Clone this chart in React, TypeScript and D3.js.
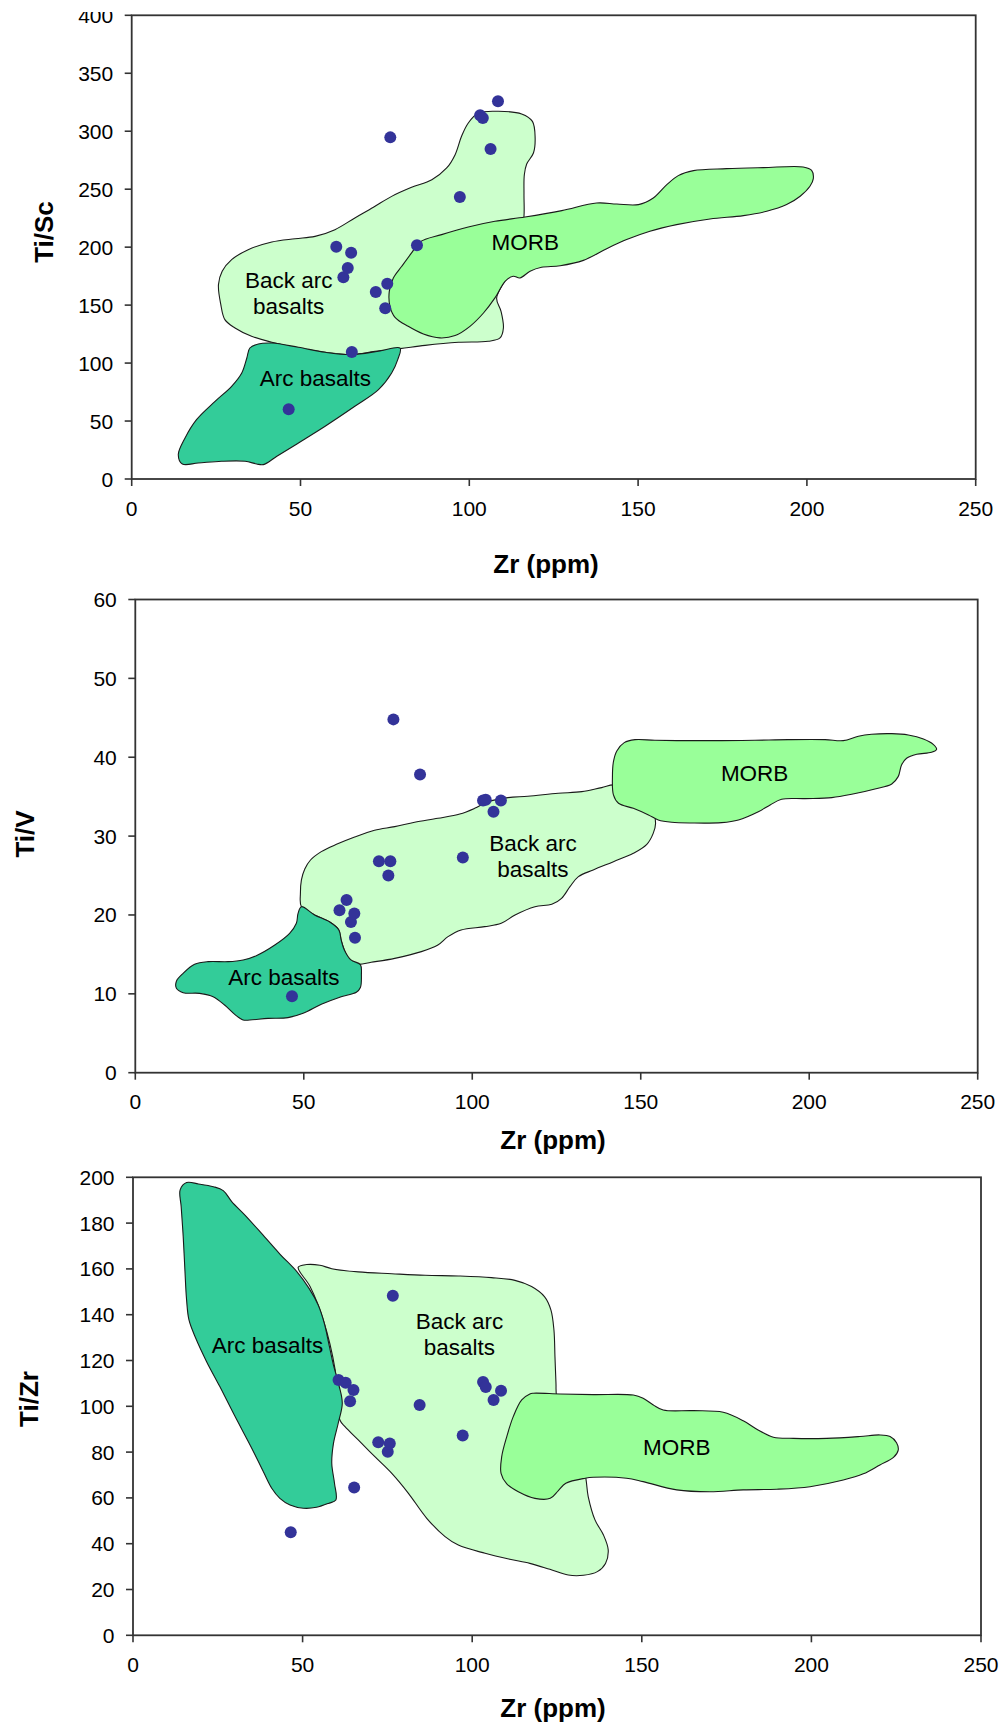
import React from 'react';
import * as d3 from 'd3';

type P = [number, number];

// ---- Sample data (same 16 samples in every diagram) ----
const zr = [46.5, 60.6, 62.7, 64.0, 65.0, 65.2, 72.3, 75.1, 75.7, 76.6, 84.5, 97.2, 103.2, 104.0, 106.3, 108.5];
const tiSc = [60.1, 200.4, 174.0, 182.0, 195.2, 109.5, 161.3, 147.2, 168.5, 294.7, 201.6, 243.3, 313.7, 311.4, 284.7, 325.8];
const tiV = [9.7, 20.6, 21.9, 19.1, 20.2, 17.1, 26.8, 25.0, 26.8, 44.8, 37.8, 27.3, 34.5, 34.6, 33.1, 34.5];
const tiZr = [45.0, 111.5, 110.3, 102.2, 107.1, 64.5, 84.3, 80.2, 83.8, 148.3, 100.6, 87.2, 110.6, 108.4, 102.7, 106.8];

const xTicks = [0, 50, 100, 150, 200, 250];
const yTicksSc = [0, 50, 100, 150, 200, 250, 300, 350, 400];
const yTicksV = [0, 10, 20, 30, 40, 50, 60];
const yTicksZr = [0, 20, 40, 60, 80, 100, 120, 140, 160, 180, 200];

// ---- Field outlines (Zr, ratio) ----
const arcSc: P[] = [[35.0,113.0],[37.5,116.5],[41.5,117.3],[49.4,113.6],[57.3,109.3],[65.2,107.3],[73.1,110.2],[79.5,113.0],[78.8,103],[77.0,91.5],[73.1,77.1],[66.1,62.7],[57.3,45.5],[49.4,31.1],[43.0,19.6],[39.0,12.4],[37.0,13.0],[33.6,15.3],[26.6,15.3],[19.7,13.8],[15.0,13.0],[13.8,21.0],[15.8,35.4],[19.2,51.2],[24.7,67.0],[29.6,80.0],[32.6,91.5],[34.1,104.4]];
const backArcSc: P[] = [[102.7,315.7],[108.6,317.2],[115.5,314.9],[118.7,308.5],[119.5,294.2],[119.0,281.2],[117.0,271.7],[116.3,262.5],[116.2,245.3],[116.2,226.6],[115,199.3],[111.6,176.3],[108.1,156.2],[109.4,144.7],[110.1,130.3],[109.1,121.7],[105.6,118.8],[96.8,117.9],[86.9,115.3],[79.5,112.5],[72.1,110.1],[65.2,107.3],[57.3,109.3],[49.4,113.0],[41.5,117.9],[35.5,123.1],[30.6,130.3],[27.6,137.5],[26.4,150.4],[25.7,167.7],[26.8,179.2],[29.6,189.2],[34.5,197.8],[41.5,204.5],[48.4,207.3],[54.3,209.3],[60.2,215.1],[66.1,225.2],[71.6,234.4],[77.0,243.8],[82.9,251.6],[88.9,258.2],[93.3,268.3],[95.8,279.8],[97.7,295.6],[99.7,307.1]];
const morbSc: P[] = [[82.9,195.0],[85.4,204.5],[91.8,210.8],[99.7,217.4],[107.6,222.3],[116.5,226.0],[127.4,231.5],[137.7,238.1],[143.7,237.2],[150.1,236.7],[154.5,242.4],[158.5,253.9],[161.9,261.7],[166.4,266.0],[176.2,267.7],[187.1,268.6],[198.9,269.2],[201.4,266.3],[201.9,259.1],[200.9,252.5],[198.0,243.9],[194.0,236.7],[188.1,230.9],[181.2,227.2],[171.3,224.3],[161.4,219.4],[153.5,213.7],[146.6,206.5],[140.7,198.7],[133.8,188.6],[126.9,184.0],[121.4,182.6],[118.0,179.2],[115.0,173.4],[113.0,174.9],[110.6,170.5],[107.6,156.2],[104.2,143.2],[100.2,131.7],[95.8,123.7],[91.3,121.7],[86.4,125.1],[81.9,131.7],[78.0,139.5],[76.5,149.0],[76.3,161.9],[77.5,173.4],[80.0,183.5]];

const arcV: P[] = [[49.3,21.05],[53.2,20.0],[57.7,19.1],[60.4,18.1],[61.1,16.8],[62.0,15.6],[64.0,14.3],[66.8,13.7],[67.1,12.4],[66.8,10.8],[65.6,10.2],[61.1,9.64],[55.2,8.67],[49.8,7.53],[45.3,6.98],[39.4,6.89],[34.0,6.68],[32.0,6.68],[29.5,7.4],[26.5,8.58],[23.1,9.64],[19.1,10.06],[14.2,10.15],[12.2,10.7],[12.2,11.6],[14.2,12.6],[17.6,13.74],[21.6,14.08],[27.5,14.08],[32.0,14.3],[35.9,14.84],[41.4,16.19],[45.8,17.67],[47.8,18.94],[48.3,20.2]];
const backArcV: P[] = [[49.3,21.05],[49.0,22.74],[49.3,24.44],[50.3,25.83],[52.0,26.97],[55.2,28.03],[59.7,28.96],[65.1,29.89],[71.0,30.74],[77.0,31.2],[82.9,31.75],[89.8,32.26],[96.3,32.8],[100.7,33.52],[104.7,34.37],[110.6,34.88],[116.5,35.05],[125.5,35.43],[132.5,35.64],[138.4,36.15],[142.4,36.48],[147.3,35.2],[153.2,33.5],[154.4,31.62],[153.7,30.35],[151.8,28.96],[147.8,27.82],[141.9,26.76],[135.9,25.71],[131.5,24.86],[129.0,23.59],[126.5,22.11],[123.6,21.35],[118.6,21.05],[112.7,20.0],[108.6,18.94],[103.7,18.52],[96.7,18.1],[92.8,17.25],[89.8,16.19],[84.9,15.35],[77.0,14.5],[70.0,14.0],[66.1,13.74],[63.6,14.2],[62.0,15.6],[61.1,16.8],[60.4,18.1],[57.7,19.1],[53.2,20.0]];
const morbV: P[] = [[142.9,40.8],[145.1,41.85],[148.3,42.23],[154.2,42.15],[164.1,42.1],[174.0,42.1],[183.9,42.15],[193.8,42.23],[204.7,42.23],[210.1,42.1],[214.6,42.66],[218.5,42.91],[224.5,42.99],[229.4,42.82],[233.9,42.32],[236.8,41.64],[237.8,41.01],[236.3,40.63],[231.9,40.37],[228.9,39.87],[227.4,39.02],[226.4,37.54],[224.5,36.61],[219.5,35.98],[212.6,35.3],[206.7,34.88],[198.8,34.75],[191.8,34.67],[188.4,33.95],[184.9,33.1],[179.0,32.05],[174.0,31.71],[165.1,31.66],[159.2,31.75],[155.2,32.05],[152.3,32.68],[147.8,33.52],[143.4,34.16],[141.9,35.22],[141.6,37.54],[141.9,39.44]];

const arcZr: P[] = [[15.8,197.7],[19.3,197.1],[23.7,195.9],[26.6,194.2],[29.1,189.4],[33.0,183.5],[37.9,175.5],[43.3,166.5],[48.3,158.8],[51.9,151.5],[54.6,144.2],[56.4,136.2],[57.8,126.8],[59.1,118.0],[60.7,109.3],[61.7,101.3],[60.5,92.6],[59.1,83.8],[58.6,75.1],[59.4,66.4],[59.8,59.1],[57.6,57.6],[54.1,55.9],[50.2,55.5],[46.3,56.9],[43.3,59.8],[40.9,64.2],[38.4,71.5],[35.0,81.7],[30.1,95.5],[25.6,108.6],[21.7,119.5],[18.5,129.7],[16.5,137.7],[15.8,146.4],[15.3,159.5],[14.8,174.1],[14.2,187.2],[13.9,194.5]];
const backArcZr: P[] = [[48.7,160.7],[51.2,161.9],[55.1,161.6],[58.6,160.1],[66.4,158.7],[76.3,157.9],[86.1,157.2],[95.9,156.9],[105.7,156.2],[112.6,155.0],[117.5,152.3],[121.3,147.9],[123.2,142.1],[124.1,133.3],[124.4,121.7],[124.7,110.0],[124.9,104.2],[128.8,86.8],[133.2,70.7],[134.2,60.6],[136.2,50.4],[138.7,43.8],[140.1,37.3],[139.3,31.4],[136.9,27.8],[132.8,26.2],[128.3,26.3],[122.9,28.8],[117.0,31.4],[111.1,33.2],[103.8,35.8],[95.9,39.4],[92.0,43.1],[86.6,51.1],[81.2,62.0],[76.3,70.7],[71.3,78.0],[66.4,85.3],[62.5,91.1],[61.0,94.0],[59.6,115.9],[56.1,137.7],[52.2,152.3]];
const morbZr: P[] = [[110.2,86.8],[108.7,78.0],[108.5,70.7],[110.2,66.1],[113.6,62.7],[118.5,59.8],[123.0,59.8],[125.4,63.2],[127.6,66.4],[133.3,68.6],[135.7,69.0],[145.5,68.6],[150.4,67.1],[160.3,63.5],[170.1,62.7],[179.9,63.5],[189.8,63.8],[199.6,64.9],[209.4,67.8],[215.3,70.5],[220.2,74.4],[224.2,77.7],[225.6,80.9],[225.1,84.1],[223.2,86.8],[220.2,87.5],[214.3,86.8],[204.5,86.0],[194.7,86.0],[188.8,86.5],[183.9,90.0],[179.9,93.7],[174.0,97.4],[165.2,98.1],[156.3,98.4],[153.4,100.6],[150.4,103.5],[147.5,104.9],[135.7,105.1],[125.9,105.4],[118.0,105.7],[117.0,105.4],[114.6,102.8],[112.1,95.5]];

const COLORS = { arc: '#33CC99', back: '#CCFFCC', morb: '#99FF99', dot: '#333399', axis: '#333333' };
const FONT = '"Liberation Sans", Arial, Helvetica, sans-serif';

type Field = { pts: P[]; fill: string };
type Label = { lines: string[]; x: number; ys: number[] };

type PanelCfg = {
  left: number; right: number; top: number; bottom: number;
  yMax: number; yTicks: number[]; ys: number[];
  fields: Field[]; labels: Label[];
  yTitle: string; yTitleX: number; yTitleY: number;
  xTitleX: number; xTitleY: number;
};

const panels: PanelCfg[] = [
  {
    left: 131.7, right: 975.7, top: 15.3, bottom: 479, yMax: 400, yTicks: yTicksSc, ys: tiSc,
    fields: [{ pts: backArcSc, fill: COLORS.back }, { pts: morbSc, fill: COLORS.morb }, { pts: arcSc, fill: COLORS.arc }],
    labels: [
      { lines: ['Back arc', 'basalts'], x: 46.5, ys: [164.8, 142.3] },
      { lines: ['Arc basalts'], x: 54.4, ys: [80.5] },
      { lines: ['MORB'], x: 116.6, ys: [197.8] },
    ],
    yTitle: 'Ti/Sc', yTitleX: 53, yTitleY: 232, xTitleX: 546, xTitleY: 572.5,
  },
  {
    left: 135.3, right: 977.7, top: 599.5, bottom: 1072.7, yMax: 60, yTicks: yTicksV, ys: tiV,
    fields: [{ pts: backArcV, fill: COLORS.back }, { pts: arcV, fill: COLORS.arc }, { pts: morbV, fill: COLORS.morb }],
    labels: [
      { lines: ['Back arc', 'basalts'], x: 118.0, ys: [28.12, 24.86] },
      { lines: ['Arc basalts'], x: 44.1, ys: [11.12] },
      { lines: ['MORB'], x: 183.8, ys: [37.0] },
    ],
    yTitle: 'Ti/V', yTitleX: 34, yTitleY: 834, xTitleX: 553, xTitleY: 1149,
  },
  {
    left: 133, right: 981, top: 1177.3, bottom: 1635.3, yMax: 200, yTicks: yTicksZr, ys: tiZr,
    fields: [{ pts: backArcZr, fill: COLORS.back }, { pts: arcZr, fill: COLORS.arc }, { pts: morbZr, fill: COLORS.morb }],
    labels: [
      { lines: ['Arc basalts'], x: 39.65, ys: [123.4] },
      { lines: ['Back arc', 'basalts'], x: 96.25, ys: [133.6, 122.4] },
      { lines: ['MORB'], x: 160.3, ys: [78.7] },
    ],
    yTitle: 'Ti/Zr', yTitleX: 38, yTitleY: 1399, xTitleX: 553, xTitleY: 1717,
  },
];

function Panel({ cfg }: { cfg: PanelCfg }) {
  const x = d3.scaleLinear().domain([0, 250]).range([cfg.left, cfg.right]);
  const y = d3.scaleLinear().domain([0, cfg.yMax]).range([cfg.bottom, cfg.top]);
  const path = d3.line<P>().x(d => x(d[0])).y(d => y(d[1])).curve(d3.curveCatmullRomClosed.alpha(0.5));
  return (
    <g>
      {cfg.fields.map((f, i) => (
        <path key={i} d={path(f.pts) || ''} fill={f.fill} stroke="#1a1a1a" strokeWidth={1.1} />
      ))}
      {cfg.labels.map((l, i) => l.lines.map((t, j) => (
        <text key={`${i}-${j}`} x={x(l.x)} y={y(l.ys[j])} textAnchor="middle" fontFamily={FONT} fontSize={22.5} fill="#000">{t}</text>
      )))}
      {zr.map((z, i) => (
        <circle key={i} cx={x(z)} cy={y(cfg.ys[i])} r={6} fill={COLORS.dot} />
      ))}
      {/* frame */}
      <rect x={cfg.left} y={cfg.top} width={cfg.right - cfg.left} height={cfg.bottom - cfg.top} fill="none" stroke={COLORS.axis} strokeWidth={1.8} />
      {xTicks.map(t => (
        <g key={t}>
          <line x1={x(t)} x2={x(t)} y1={cfg.bottom} y2={cfg.bottom + 7} stroke={COLORS.axis} strokeWidth={1.6} />
          <text x={x(t)} y={cfg.bottom + 36.5} textAnchor="middle" fontFamily={FONT} fontSize={21} fill="#000">{t}</text>
        </g>
      ))}
      {cfg.yTicks.map(t => (
        <g key={t}>
          <line x1={cfg.left - 7} x2={cfg.left} y1={y(t)} y2={y(t)} stroke={COLORS.axis} strokeWidth={1.6} />
          <text x={cfg.left - 18.5} y={y(t) + 7.5} textAnchor="end" fontFamily={FONT} fontSize={21} fill="#000">{t}</text>
        </g>
      ))}
      <text transform={`translate(${cfg.yTitleX},${cfg.yTitleY}) rotate(-90)`} textAnchor="middle" fontFamily={FONT} fontSize={26} fontWeight="bold" fill="#000">{cfg.yTitle}</text>
      <text x={cfg.xTitleX} y={cfg.xTitleY} textAnchor="middle" fontFamily={FONT} fontSize={26} fontWeight="bold" fill="#000">Zr (ppm)</text>
    </g>
  );
}

export default function App() {
  return (
    <svg width={1005} height={1729} style={{ position: 'absolute', left: 0, top: 0, background: '#fff' }}>
      <rect x={0} y={0} width={1005} height={1729} fill="#fff" />
      {panels.map((p, i) => <Panel key={i} cfg={p} />)}
      <rect x={0} y={0} width={130} height={12} fill="#fff" />
    </svg>
  );
}
